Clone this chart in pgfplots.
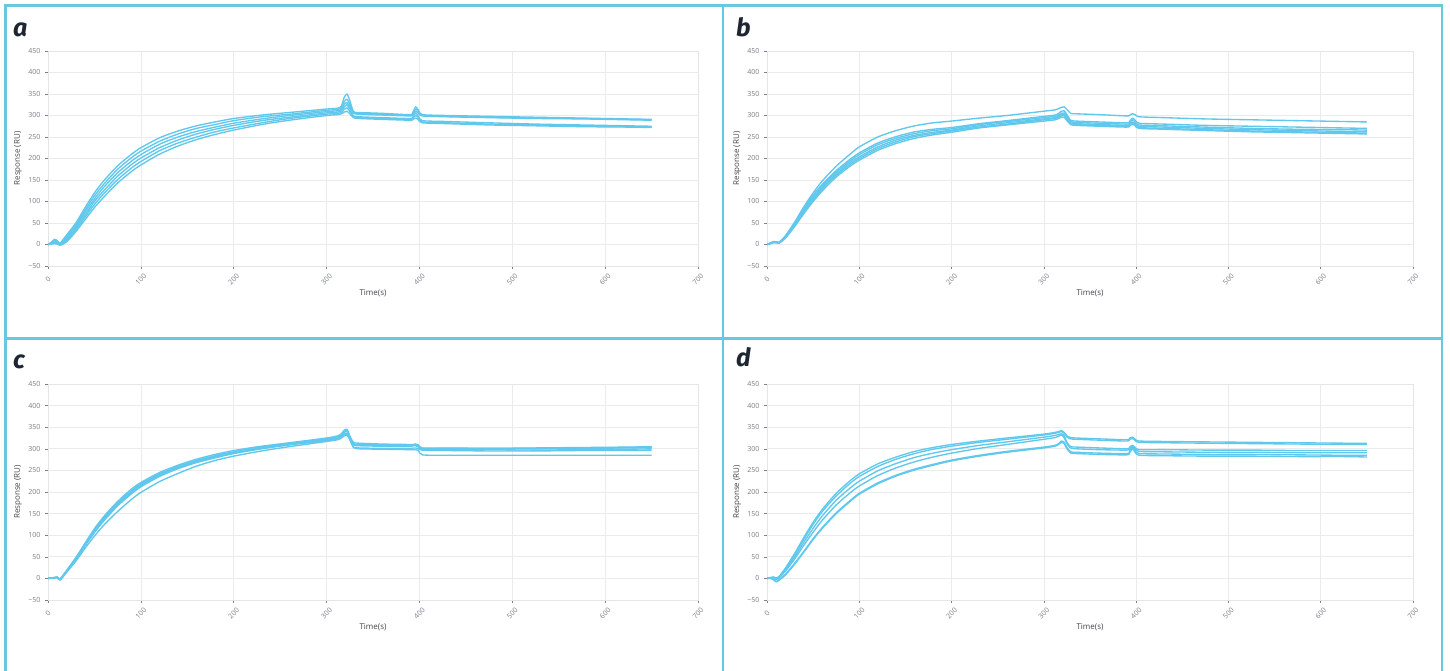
\documentclass[border=0pt]{standalone}
\usepackage{fontspec}
\setmainfont{Open Sans}
\newfontfamily\letterfont{Fira Sans}
\usepackage{pgfplots}
\usepackage{pgfplotstable}
\pgfplotsset{compat=1.18}
\definecolor{curve}{RGB}{95,200,236}
\definecolor{frame}{RGB}{104,200,224}
\definecolor{ticklab}{RGB}{120,125,135}
\definecolor{lab}{RGB}{70,70,75}
\definecolor{letter}{RGB}{30,37,51}

\pgfplotstableread{
t a1 a2 a3 a4 a5 a6
0 0 0 0 0 0 0
4 6 5 4 3 2 1
7 12 10 8 6 4 2
10 9 7 6 4 3 1
13 3 2 1 0 -1 -2
20 22 19 16 12 9 6
30 50 46 42 38 34 30
40 86 80 75 69 64 58
50 120 113 106 100 93 86
60 148 140 133 125 118 110
75 183 175 167 159 151 143
90 210 202 194 186 178 170
100 225 217 209 201 193 185
120 248 240 233 225 218 210
140 264 257 250 243 236 229
160 276 270 263 257 250 244
180 285 279 273 268 262 256
200 293 288 282 277 271 266
230 301 297 292 288 283 279
260 307 303 300 296 293 289
300 315 312 309 306 303 300
312 317 314 311 308 305 302
316 322 318 314 311 307 304
319 342 332 326 320 314 308
322 350 338 330 325 318 310
325 335 326 320 315 310 304
329 309 307 305 299 297 295
335 307 305 303 297 295 293
360 305 303 301 295 293 291
390 302 300 299 293 291 289
393 308 305 302 297 294 291
396 320 315 310 306 300 294
399 312 309 305 298 294 290
403 302 300 299 288 285 283
430 300 298 297 286 283 281
475 298 296 295 283 280 278
525 296 294 293 280 278 276
575 294 293 292 278 276 274
625 292 291 290 276 274 273
650 291 290 289 275 273 272
}\tabA

\pgfplotstableread{
t b1 b2 b3 b4 b5 b6
0 0 0 0 0 0 0
4 3 4 4 3 2 2
7 6 7 6 5 5 4
10 5 6 6 5 4 4
13 4 5 5 4 4 3
20 20 20 19 17 16 15
30 52 50 48 46 44 42
40 88 84 81 78 75 72
50 120 115 111 107 104 100
60 148 140 136 132 129 125
75 182 172 168 164 161 157
90 210 198 194 190 186 182
100 227 213 209 204 200 196
120 250 236 232 227 223 219
140 265 251 247 243 239 235
160 276 262 258 254 251 247
180 283 268 265 261 258 255
200 287 272 269 266 264 261
230 294 281 279 276 273 271
260 300 288 286 283 280 278
300 310 298 295 292 290 287
312 313 301 298 295 293 290
316 316 305 301 298 296 293
319 319 310 305 302 299 296
322 320 311 306 303 300 296
325 314 302 298 294 291 288
329 305 289 286 283 281 279
335 304 287 284 281 279 277
360 302 285 282 279 277 275
390 299 283 280 277 275 273
393 301 287 283 280 278 276
396 304 294 290 285 282 280
399 302 289 285 281 278 276
403 297 282 278 275 272 270
430 295 280 276 273 270 268
475 292 277 273 270 267 265
525 290 275 270 267 264 262
575 288 273 268 265 262 260
625 286 271 267 263 260 258
650 285 270 266 262 259 257
}\tabB

\pgfplotstableread{
t c1 c2 c3 c4 c5 c6
0 0 0 0 0 0 0
4 1 1 0 1 1 1
7 2 2 1 1 2 2
10 3 3 2 2 3 2
13 -3 -2 -3 -2 -1 -4
20 18 17 16 16 18 14
30 48 47 45 44 47 40
40 82 80 77 76 79 70
50 115 112 108 106 110 98
60 143 140 136 133 138 123
75 178 175 171 168 173 155
90 207 203 199 196 201 183
100 222 219 215 212 217 199
120 245 242 238 236 240 224
140 262 259 256 254 258 243
160 276 273 270 268 272 260
180 287 284 281 279 283 273
200 296 293 290 289 292 283
230 306 304 301 300 303 295
260 314 312 310 309 311 305
300 325 323 321 319 322 317
312 330 327 325 323 328 321
316 335 331 328 326 333 325
319 343 338 334 331 340 330
322 345 340 336 333 342 332
325 330 327 324 322 329 322
329 315 312 309 304 311 303
335 313 310 307 302 309 300
360 311 309 306 301 308 299
390 310 308 306 301 308 298
393 310 309 307 302 308 298
396 311 310 307 302 309 298
399 309 307 304 300 306 296
403 302 300 298 297 301 286
430 302 300 298 296 301 285
475 301 300 298 295 301 285
525 302 300 297 295 301 285
575 303 301 298 296 302 285
625 304 302 299 296 303 285
650 305 303 300 297 304 285
}\tabC

\pgfplotstableread{
t d1 d2 d3 d4 d5 d6
0 0 0 0 0 0 0
4 2 2 1 1 1 0
7 3 3 2 1 -2 -3
10 1 0 -1 -2 -7 -8
13 4 3 2 1 -3 -4
20 24 22 20 17 10 8
30 58 55 50 45 35 33
40 95 91 84 77 63 61
50 130 125 116 107 92 90
60 160 155 145 135 118 116
75 197 191 181 170 152 150
90 226 220 209 198 180 178
100 242 236 225 214 197 195
120 265 259 249 238 221 219
140 281 276 266 256 239 237
160 294 289 280 270 253 251
180 303 299 290 281 264 262
200 310 306 298 290 274 272
230 318 315 308 301 285 283
260 325 322 316 310 294 292
300 334 332 327 322 304 302
312 338 336 331 326 308 306
316 340 338 333 329 312 310
319 342 340 335 332 318 315
322 338 336 330 326 315 312
325 330 327 315 312 303 300
329 326 323 305 302 293 290
335 325 322 304 300 292 289
360 323 320 302 298 290 287
390 321 318 300 297 289 286
393 325 322 304 301 295 291
396 327 324 308 306 305 300
399 322 319 303 300 296 292
403 318 315 298 294 289 285
430 317 314 298 293 288 284
475 316 313 297 292 287 283
525 315 312 297 292 287 283
575 314 311 296 291 286 282
625 313 310 296 291 285 282
650 313 310 296 291 285 281
}\tabD

\pgfplotsset{
  cv/.style={color=curve, mark=none, line width=1.35pt, smooth, tension=0.4, line join=round},
  panel/.style={
    scale only axis, width=650pt, height=#1,
    xmin=0, xmax=700, ymin=-50, ymax=450,
    xtick={0,100,...,700}, ytick={-50,0,...,450},
    yticklabels={−50,0,50,100,150,200,250,300,350,400,450},
    /pgf/number format/assume math mode=true,
    grid=major, major grid style={black!8, line width=0.6pt},
    axis line style={black!10, line width=0.6pt},
    tick style={black!50, line width=0.5pt},
    tick align=outside, major tick length=3pt, tick pos=left,
    tick label style={font=\fontsize{7}{8}\selectfont, text=ticklab},
    xticklabel style={yshift=-10pt, rotate=45, anchor=center},
    yticklabel style={xshift=-1pt},
    xlabel={Time(s)}, ylabel={Response (RU)},
    label style={font=\fontsize{8}{9.5}\selectfont, text=lab},
    xlabel style={at={(axis description cs:0.5,-0.125)}, anchor=center},
    ylabel style={at={(axis description cs:-0.046,0.5)}, anchor=center},
  }
}

\begin{document}
\begin{tikzpicture}
\useasboundingbox (0pt,0pt) rectangle (1450pt,671pt);
\fill[white] (0pt,0pt) rectangle (1450pt,671pt);

% panel a
\begin{axis}[panel=215pt, at={(48pt,405pt)}, anchor=south west]
\addplot[cv] table[x=t,y=a6]{\tabA};
\addplot[cv] table[x=t,y=a5]{\tabA};
\addplot[cv] table[x=t,y=a4]{\tabA};
\addplot[cv] table[x=t,y=a3]{\tabA};
\addplot[cv] table[x=t,y=a2]{\tabA};
\addplot[cv] table[x=t,y=a1]{\tabA};
\end{axis}

% panel b
\begin{axis}[panel=215pt, width=646pt, at={(767pt,405pt)}, anchor=south west]
\addplot[cv] table[x=t,y=b6]{\tabB};
\addplot[cv] table[x=t,y=b5]{\tabB};
\addplot[cv] table[x=t,y=b4]{\tabB};
\addplot[cv] table[x=t,y=b3]{\tabB};
\addplot[cv] table[x=t,y=b2]{\tabB};
\addplot[cv] table[x=t,y=b1]{\tabB};
\end{axis}

% panel c
\begin{axis}[panel=216pt, at={(48pt,71pt)}, anchor=south west]
\addplot[cv] table[x=t,y=c6]{\tabC};
\addplot[cv] table[x=t,y=c4]{\tabC};
\addplot[cv] table[x=t,y=c3]{\tabC};
\addplot[cv] table[x=t,y=c2]{\tabC};
\addplot[cv] table[x=t,y=c5]{\tabC};
\addplot[cv] table[x=t,y=c1]{\tabC};
\end{axis}

% panel d
\begin{axis}[panel=216pt, width=646pt, at={(767pt,71pt)}, anchor=south west]
\addplot[cv] table[x=t,y=d6]{\tabD};
\addplot[cv] table[x=t,y=d5]{\tabD};
\addplot[cv] table[x=t,y=d4]{\tabD};
\addplot[cv] table[x=t,y=d3]{\tabD};
\addplot[cv] table[x=t,y=d2]{\tabD};
\addplot[cv] table[x=t,y=d1]{\tabD};
\end{axis}

% frames
\begin{scope}[frame, line width=2.6pt]
\draw (5.5pt,0pt) -- (5.5pt,665.5pt) -- (1442pt,665.5pt) -- (1442pt,0pt);
\draw (723pt,0pt) -- (723pt,665.5pt);
\draw (5.5pt,332.3pt) -- (1442pt,332.3pt);
\end{scope}

% panel letters
\begin{scope}[every node/.style={text=letter, font=\letterfont\bfseries\itshape\fontsize{25}{27}\selectfont, inner sep=0pt}]
\node[anchor=base west] at (13pt,634pt) {a};
\node[anchor=base west] at (736pt,634pt) {b};
\node[anchor=base west] at (13pt,302pt) {c};
\node[anchor=base west] at (736pt,304pt) {d};
\end{scope}
\end{tikzpicture}
\end{document}
